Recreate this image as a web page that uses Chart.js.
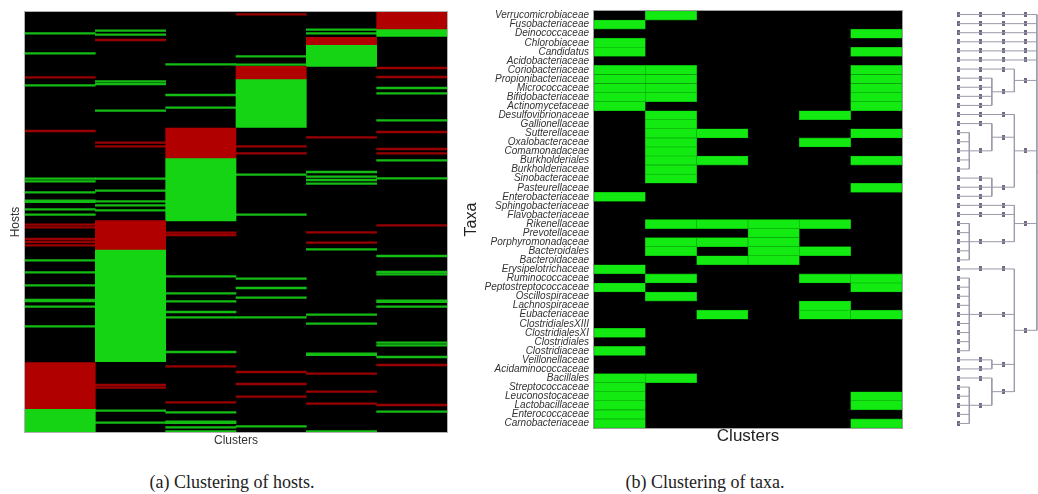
<!DOCTYPE html>
<html>
<head>
<meta charset="utf-8">
<script src="https://cdn.jsdelivr.net/npm/chart.js@4.4.0/dist/chart.umd.min.js"></script>
<style>
  body { margin: 0; background: #fff; width: 1038px; height: 494px; position: relative; overflow: hidden; }
  .box { position: absolute; }
  .cap { position: absolute; top: 472px; width: 300px; text-align: center;
         font-family: "Liberation Serif", serif; font-size: 18px; color: #222; }
</style>
</head>
<body>
<div class="box" style="left:0;top:0;width:449px;height:452px"><canvas id="hosts"></canvas></div>
<div class="box" style="left:458px;top:0;width:446px;height:452px"><canvas id="taxa"></canvas></div>
<div class="box" style="left:945px;top:10px;width:93px;height:418px"><canvas id="tree"></canvas></div>
<div class="cap" style="left:82px">(a) Clustering of hosts.</div>
<div class="cap" style="left:555px">(b) Clustering of taxa.</div>
<script>
// ---- (a) hosts x clusters ----
const clusters = ['1', '2', '3', '4', '5', '6'];
const hostCount = 210;
const redBlocks = [[175.3, 198.3], [104.3, 118.7], [58, 73], [27.2, 33.5], [12.7, 16.3], [0, 8.5]];
const greenBlocks = [[198.3, 210], [118.7, 174.8], [73, 104.5], [33.5, 57.7], [16.3, 27.2], [8.5, 12.2]];
const greenLines = [
  [10.7, 20.7, 36.7, 83.3, 84.7, 90.2, 94.3, 94.9, 98.7, 101.3, 124.2, 130.2, 136.7, 144, 144.6, 147.3, 157.2],
  [9.3, 11.3, 34.7, 36, 49.3, 83.3, 89.3, 94.7, 96.7, 99.2, 199.3, 205.3],
  [26.2, 41.5, 47.8, 132.2, 140.7, 144.7, 150, 152.7, 170, 200.2, 204.8, 205.4, 207.7, 209.7],
  [22.2, 26.3, 81.3, 101.3, 133.3, 138, 142.8, 152.7, 207.2],
  [8.8, 10.7, 80, 82.3, 84, 85.8, 118.7, 151.3, 155.8, 170.8, 171.4, 209.7],
  [38, 40.7, 54.2, 74.2, 83.2, 122, 130, 131.2, 144.3, 144.9, 147.3, 165.3, 166.7, 172.5, 199.8]
];
const redLines = [
  [32.7, 59.5, 106.3, 107.7, 113.5, 115, 116.7],
  [14, 65.3, 67.2, 186.5, 187.8],
  [110.3, 111.5, 177.2, 195.2],
  [1.2, 67.2, 70.7, 180, 186, 192.3],
  [62.7, 110.2, 115.3, 180.8, 189.8, 195.8],
  [28, 32.5, 60, 68.5, 70.7, 106.7, 176.5, 196.5]
];

// ---- (b) taxa x clusters ----
const taxa = ['Verrucomicrobiaceae', 'Fusobacteriaceae', 'Deinococcaceae', 'Chlorobiaceae', 'Candidatus',
  'Acidobacteriaceae', 'Coriobacteriaceae', 'Propionibacteriaceae', 'Micrococcaceae', 'Bifidobacteriaceae',
  'Actinomycetaceae', 'Desulfovibrionaceae', 'Gallionellaceae', 'Sutterellaceae', 'Oxalobacteraceae',
  'Comamonadaceae', 'Burkholderiales', 'Burkholderiaceae', 'Sinobacteraceae', 'Pasteurellaceae',
  'Enterobacteriaceae', 'Sphingobacteriaceae', 'Flavobacteriaceae', 'Rikenellaceae', 'Prevotellaceae',
  'Porphyromonadaceae', 'Bacteroidales', 'Bacteroidaceae', 'Erysipelotrichaceae', 'Ruminococcaceae',
  'Peptostreptococcaceae', 'Oscillospiraceae', 'Lachnospiraceae', 'Eubacteriaceae', 'ClostridialesXIII',
  'ClostridialesXI', 'Clostridiales', 'Clostridiaceae', 'Veillonellaceae', 'Acidaminococcaceae',
  'Bacillales', 'Streptococcaceae', 'Leuconostocaceae', 'Lactobacillaceae', 'Enterococcaceae',
  'Carnobacteriaceae'];
const taxaClusters = [
  [2], [1], [6], [1], [1, 6], [], [1, 2, 6], [1, 2, 6], [1, 2, 6], [1, 2, 6], [1, 6],
  [2, 5], [2], [2, 3, 6], [2, 5], [2], [2, 3, 6], [2], [2], [6], [1], [], [],
  [2, 3, 4, 5], [4], [2, 3, 4], [2, 4, 5], [3, 4], [1], [2, 5, 6], [1, 6], [2], [5], [3, 5, 6],
  [], [1], [], [1], [], [], [1, 2], [1], [1, 6], [1, 6], [1], [1, 6]
];

// dendrogram: group sizes (in leaves, top to bottom) at levels 2..5
const level2Sizes = [1,1,1,1,1,1,1,1,1,1,1,1,1,5,1,1,1,1,1,5,1,9,1,1,1,5];
const level3Sizes = [1,1,1,1,1,1,1,4,1,6,3,1,1,5,1,9,2,6];
const level4Sizes = [1,1,1,1,1,1,5,10,7,18];
const level5Sizes = [46];

const frame = {
  id: 'frame',
  beforeDatasetsDraw(chart) {
    const a = chart.chartArea, ctx = chart.ctx;
    ctx.save();
    ctx.fillStyle = '#000';
    ctx.fillRect(a.left, a.top, a.right - a.left, a.bottom - a.top);
    ctx.restore();
  },
  afterDatasetsDraw(chart, args, opts) {
    const a = chart.chartArea, ctx = chart.ctx;
    ctx.save();
    ctx.strokeStyle = opts.color || '#aaa';
    ctx.lineWidth = 1;
    ctx.strokeRect(a.left - 0.5, a.top - 0.5, a.right - a.left + 1, a.bottom - a.top + 1);
    ctx.restore();
  }
};

function blockBars(ranges) {
  return ranges.map((r, i) => ({ x: clusters[i], y: r }));
}
function lineBars(rowsByCluster) {
  const out = [];
  rowsByCluster.forEach((rows, i) => rows.forEach(r => out.push({ x: clusters[i], y: [r - 0.4, r + 0.4] })));
  return out;
}

new Chart(document.getElementById('hosts'), {
  type: 'bar',
  data: {
    labels: clusters,
    datasets: [
      { label: 'red block', data: blockBars(redBlocks), backgroundColor: '#b00000' },
      { label: 'green block', data: blockBars(greenBlocks), backgroundColor: '#14d414' },
      { label: 'green', data: lineBars(greenLines), backgroundColor: '#14bd14' },
      { label: 'red', data: lineBars(redLines), backgroundColor: '#9a0000' }
    ]
  },
  options: {
    animation: false,
    responsive: true,
    maintainAspectRatio: false,
    layout: { padding: { top: 12, right: 2 } },
    datasets: { bar: { grouped: false, barPercentage: 1, categoryPercentage: 1 } },
    plugins: { legend: { display: false }, tooltip: { enabled: false }, frame: { color: '#b0b0b0' } },
    scales: {
      x: {
        ticks: { display: false }, grid: { display: false, drawTicks: false }, border: { display: false },
        title: { display: true, text: 'Clusters', color: '#333', font: { size: 12, family: 'Liberation Sans' }, padding: { top: 0, bottom: 4 } },
        afterFit(s) { s.height = 20; }
      },
      y: {
        min: 0, max: hostCount, reverse: true,
        ticks: { display: false }, grid: { display: false, drawTicks: false }, border: { display: false },
        title: { display: true, text: 'Hosts', color: '#333', font: { size: 12, family: 'Liberation Sans' }, padding: { top: 8, bottom: 0 } },
        afterFit(s) { s.width = 25; }
      }
    }
  },
  plugins: [frame]
});

const cells = [];
taxaClusters.forEach((cs, i) => cs.forEach(c => cells.push({ y: taxa[i], x: [c - 1, c] })));

new Chart(document.getElementById('taxa'), {
  type: 'bar',
  data: {
    labels: taxa,
    datasets: [{ label: 'present', data: cells, backgroundColor: '#12ea12', borderColor: '#0aa80a', borderWidth: 0.6, borderSkipped: false }]
  },
  options: {
    indexAxis: 'y',
    animation: false,
    responsive: true,
    maintainAspectRatio: false,
    layout: { padding: { top: 10, right: 2 } },
    datasets: { bar: { grouped: false, barPercentage: 1, categoryPercentage: 1 } },
    plugins: { legend: { display: false }, tooltip: { enabled: false }, frame: { color: '#a0a0a0' } },
    scales: {
      x: {
        min: 0, max: 6,
        ticks: { display: false }, grid: { display: false, drawTicks: false }, border: { display: false },
        title: { display: true, text: 'Clusters', color: '#222', font: { size: 17, family: 'Liberation Sans' }, padding: { top: 0, bottom: 5 } },
        afterFit(s) { s.height = 24; }
      },
      y: {
        ticks: { autoSkip: false, padding: 5, color: '#333', font: { size: 10, style: 'italic', family: 'Liberation Sans' } },
        grid: { display: false, drawTicks: false }, border: { display: false },
        title: { display: true, text: 'Taxa', color: '#222', font: { size: 16, family: 'Liberation Sans' }, padding: { top: 4, bottom: 0 } },
        afterFit(s) { s.width = 136; }
      }
    }
  },
  plugins: [frame]
});

// dendrogram built from the group sizes
const gap = { x: null, y: null };
const nodes = [], links = [];
let prev = taxa.map((t, i) => ({ y: i + 1, from: i, to: i }));
prev.forEach(n => nodes.push({ x: 1, y: n.y }));
[level2Sizes, level3Sizes, level4Sizes, level5Sizes].forEach((sizes, li) => {
  const lv = li + 2;
  const jx = lv - 0.5;
  const next = [];
  let start = 0;
  sizes.forEach(size => {
    const end = start + size - 1;
    const kids = prev.filter(n => n.from >= start && n.to <= end);
    const y = (kids[0].y + kids[kids.length - 1].y) / 2;
    if (kids.length === 1) {
      links.push({ x: lv - 1, y }, { x: lv, y }, gap);
    } else {
      kids.forEach(k => links.push({ x: lv - 1, y: k.y }, { x: jx, y: k.y }, gap));
      links.push({ x: jx, y: kids[0].y }, { x: jx, y: kids[kids.length - 1].y }, gap);
      links.push({ x: jx, y }, { x: lv, y }, gap);
    }
    next.push({ y, from: start, to: end });
    if (lv < 5) nodes.push({ x: lv, y });
    start = end + 1;
  });
  prev = next;
});

const mark = document.createElement('canvas');
mark.width = 3; mark.height = 5;
const mctx = mark.getContext('2d');
mctx.fillStyle = '#6c6c84';
mctx.fillRect(0, 0, 3, 5);

new Chart(document.getElementById('tree'), {
  type: 'scatter',
  data: {
    datasets: [
      { label: 'links', data: links, showLine: true, spanGaps: false, borderColor: '#9a9aaa', borderWidth: 1, pointRadius: 0 },
      { label: 'nodes', data: nodes, pointStyle: mark, pointRadius: 2, clip: false }
    ]
  },
  options: {
    animation: false,
    responsive: true,
    maintainAspectRatio: false,
    layout: { padding: 0, autoPadding: false },
    plugins: { legend: { display: false }, tooltip: { enabled: false } },
    scales: {
      x: { display: false, min: 0.42, max: 4.55 },
      y: { display: false, min: 0.5, max: 46.5, reverse: true }
    }
  }
});
</script>
</body>
</html>
